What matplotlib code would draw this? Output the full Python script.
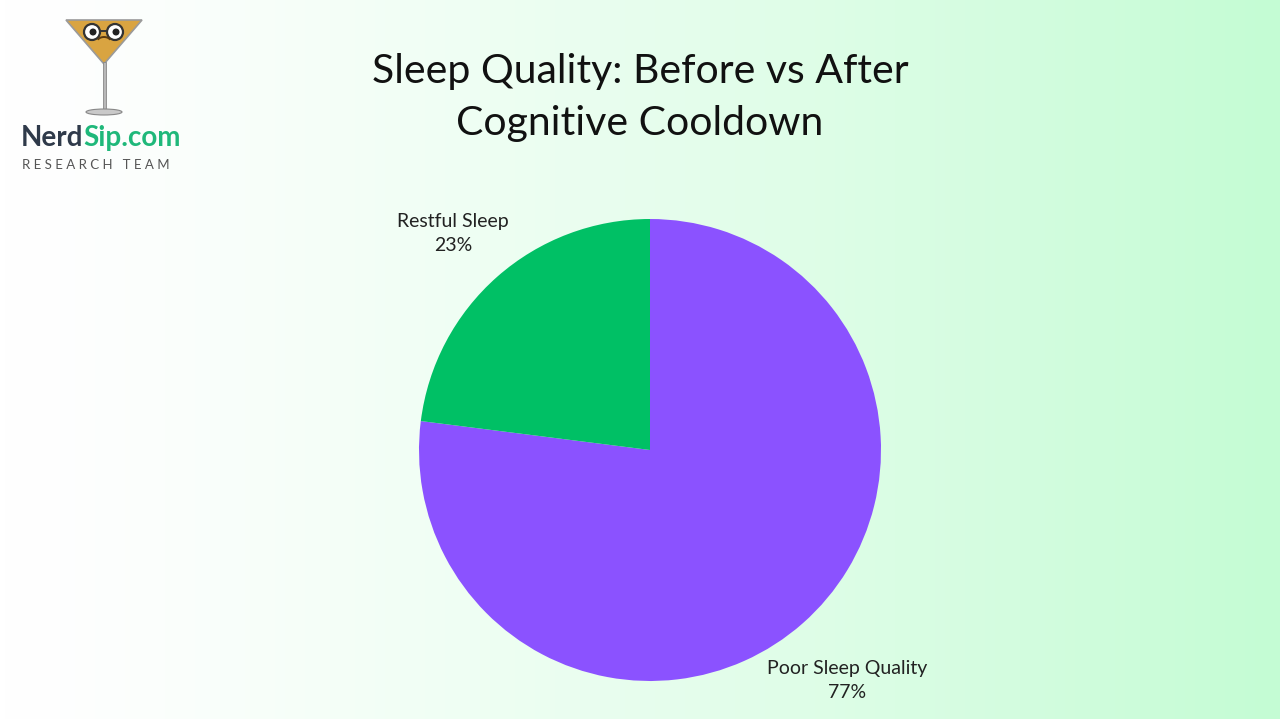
import numpy as np
import matplotlib.pyplot as plt
from matplotlib.patches import Polygon, Ellipse, Circle, Rectangle, Arc

labels = ['Poor Sleep Quality', 'Restful Sleep']
values = [77, 23]
colors = ['#8b52ff', '#00c065']
title = 'Sleep Quality: Before vs After\nCognitive Cooldown'

W, H = 1280, 719
fig = plt.figure(figsize=(12.8, 7.19), dpi=100)

# background gradient (white -> mint)
bg = fig.add_axes([0, 0, 1, 1])
grad = np.linspace(0, 1, 256).reshape(1, -1)
c0 = np.array([1.0, 1.0, 1.0])
c1 = np.array([0xc4, 0xfc, 0xd4]) / 255
img = c0 + (c1 - c0) * grad[..., None] ** 1.3
bg.imshow(img, aspect='auto', extent=[0, W, H, 0])
bg.set_xlim(0, W)
bg.set_ylim(H, 0)
bg.axis('off')

# pie in pixel coordinates
ax = fig.add_axes([0, 0, 1, 1])
ax.patch.set_alpha(0)
txt = [f'{l}\n{v}%' for l, v in zip(labels, values)]
wedges, texts = ax.pie(values, labels=txt, colors=colors, startangle=90,
                       counterclock=False, center=(650, H - 450), radius=231,
                       labeldistance=1.29, frame=True,
                       wedgeprops=dict(linewidth=0),
                       textprops=dict(fontsize=14, family='Lato', color='#222222'))
for t in texts:
    x, y = t.get_position()
    t.set_position((x, y - 7))
    t.set_ha('center')
    t.set_va('center')
    t.set_linespacing(1.45)
ax.set_xlim(0, W)
ax.set_ylim(0, H)
ax.set_aspect('equal')
ax.axis('off')

fig.text(640 / W, 1 - 98 / H, title, ha='center', va='center', fontsize=29.5,
         family='Lato', color='#111111', linespacing=1.5)

# logo: martini glass
lg = bg
lg.add_patch(Polygon([[66, 20], [142, 20], [104, 64]], closed=True,
                     facecolor='#d9a441', edgecolor='#9a9a9a', lw=1.2))
lg.add_patch(Rectangle((102.5, 62), 3, 48, facecolor='#b8b8b8', edgecolor='#888888', lw=0.6))
lg.add_patch(Ellipse((104, 112), 36, 6, facecolor='#c9c9c9', edgecolor='#888888', lw=0.8))
for ex in (92, 115):
    lg.add_patch(Circle((ex, 32), 8, facecolor='white', edgecolor='#333333', lw=1.6))
    lg.add_patch(Circle((ex + 1, 32), 3.5, facecolor='#222222'))
lg.plot([100, 107], [31, 31], color='#333333', lw=1.4)
lg.add_patch(Arc((104, 42), 14, 10, theta1=200, theta2=340, color='#5a3a10', lw=1.4))

nerd = fig.text(21 / W, 1 - 138 / H, 'Nerd', fontsize=20, fontweight='bold', family='Lato',
                color='#2f3a4a', va='center')
fig.canvas.draw()
bb = nerd.get_window_extent()
fig.text(bb.x1 / W, 1 - 138 / H, 'Sip.com', fontsize=20, fontweight='bold', family='Lato',
         color='#1fb87a', va='center')
fig.text(22 / W, 1 - 165 / H, 'R E S E A R C H   T E A M', fontsize=9.5, family='Lato',
         color='#555555', va='center')

fig.savefig('out.png', dpi=100)
